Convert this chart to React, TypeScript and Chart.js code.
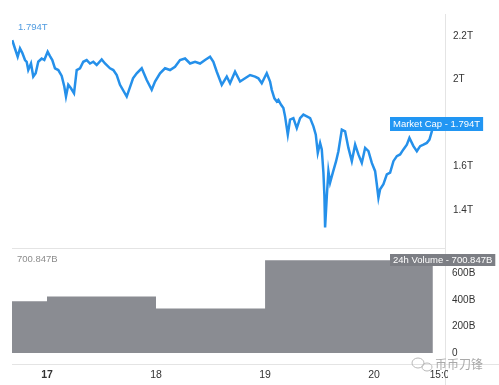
import React, { useEffect, useRef } from "react";
import { Chart, registerables } from "chart.js";

Chart.register(...registerables);

// Market cap: hours since the 16th 00:00, value in trillions
const capHours = [
  16.36, 16.95, 17.55, 18.06, 18.56, 19.16, 19.53, 19.88, 20.48, 20.98, 21.51, 22.08, 22.83, 23.41,
  24.15, 24.66, 25.17, 25.76, 26.49, 27.24, 27.81, 28.18, 28.69, 29.28, 29.95, 30.54, 31.27, 31.99,
  32.74, 33.47, 34.19, 34.94, 36.04, 36.77, 37.87, 38.6, 39.35, 40.07, 41.55, 42.94, 43.75, 44.85,
  45.95, 47.05, 47.78, 48.88, 49.98, 51.08, 52.18, 53.28, 54.39, 55.49, 56.59, 57.69, 58.79, 59.89,
  60.62, 61.37, 62.47, 63.57, 64.29, 65.39, 66.5, 67.6, 68.7, 69.8, 70.52, 71.27, 72.0, 72.37,
  73.1, 73.47, 74.05, 74.58, 74.93, 75.52, 76.03, 76.4, 77.0, 77.5, 78.23, 78.98, 79.71, 80.43,
  81.18, 81.91, 82.64, 83.16, 83.6, 84.11, 84.48, 84.84, 85.06, 85.21, 85.59, 85.94, 86.31, 86.91,
  87.63, 88.14, 88.89, 89.61, 90.34, 91.09, 91.82, 92.54, 93.29, 94.02, 94.75, 95.49, 96.22, 96.59,
  96.95, 97.32, 98.05, 98.8, 99.52, 100.25, 101.0, 101.72, 102.45, 103.2, 103.77, 104.65, 105.4,
  106.13, 106.86, 107.6, 108.18, 108.7, 108.93,
];
const capValues = [
  2.18, 2.142, 2.104, 2.142, 2.122, 2.089, 2.081, 2.043, 2.073, 2.013, 2.028, 2.081, 2.096, 2.089,
  2.127, 2.107, 2.089, 2.051, 2.043, 2.016, 1.967, 1.921, 1.975, 1.959, 1.936, 2.043, 2.051, 2.081,
  2.089, 2.073, 2.081, 2.066, 2.092, 2.073, 2.051, 2.043, 2.02, 1.975, 1.921, 2.005, 2.028, 2.051,
  1.997, 1.952, 1.99, 2.028, 2.051, 2.043, 2.058, 2.089, 2.096, 2.073, 2.081, 2.073, 2.089, 2.104,
  2.081, 2.035, 1.975, 2.013, 1.982, 2.035, 1.99, 2.005, 2.02, 2.013, 2.005, 1.982, 2.013, 2.028,
  1.99, 1.952, 1.913, 1.898, 1.906, 1.883, 1.868, 1.83, 1.746, 1.815, 1.822, 1.776, 1.822, 1.838,
  1.83, 1.822, 1.784, 1.746, 1.662, 1.708, 1.678, 1.571, 1.464, 1.319, 1.464, 1.578, 1.525, 1.571,
  1.624, 1.67, 1.769, 1.761, 1.685, 1.624, 1.7, 1.655, 1.616, 1.685, 1.67, 1.616, 1.578, 1.518,
  1.456, 1.495, 1.518, 1.563, 1.571, 1.624, 1.647, 1.655, 1.678, 1.7, 1.731, 1.693, 1.67,
  1.693, 1.7, 1.708, 1.723, 1.761, 1.794,
];

// 24h volume (billions), step values starting at each hour
const volHours = [16.3, 24, 48, 72, 108.93];
const volValues = [390, 427, 337, 700.847, 700.847];

const dayTicks = [24, 48, 72, 96];
const dayLabels = ["17", "18", "19", "20"];
const endTickHour = 111;
const endTickLabel = "15:00";

const capTicks = [1.4, 1.6, 1.8, 2.0, 2.2];
const capTickLabels = ["1.4T", "1.6T", "1.8T", "2T", "2.2T"];
const volTicks = [0, 200, 400, 600];
const volTickLabels = ["0", "200B", "400B", "600B"];

const capLabel = "Market Cap";
const volLabel = "24h Volume";
const capLast = "1.794T";
const volLast = "700.847B";
const watermark = "币币刀锋";

const FONT = "'Liberation Sans', Arial, sans-serif";
const BLUE = "#2590ea";
const GREY = "#8a8c92";

const overlay = {
  id: "overlay",
  afterDraw(chart: any) {
    const { ctx, chartArea, scales } = chart;
    const x = scales.x;
    const y = scales.y;
    const y2 = scales.y2;
    ctx.save();
    ctx.lineWidth = 1;
    ctx.strokeStyle = "#e4e4e4";
    // panel separator
    ctx.beginPath();
    ctx.moveTo(chartArea.left, Math.round(y2.top) + 0.5);
    ctx.lineTo(chartArea.right, Math.round(y2.top) + 0.5);
    ctx.stroke();
    // bottom axis line
    ctx.beginPath();
    ctx.moveTo(chartArea.left, Math.round(chartArea.bottom) + 0.5);
    ctx.lineTo(chart.width, Math.round(chartArea.bottom) + 0.5);
    ctx.stroke();
    // right axis line
    ctx.beginPath();
    ctx.moveTo(Math.round(chartArea.right) + 0.5, chartArea.top);
    ctx.lineTo(Math.round(chartArea.right) + 0.5, chart.height);
    ctx.stroke();

    // corner values
    ctx.textBaseline = "middle";
    ctx.textAlign = "left";
    ctx.font = `9.5px ${FONT}`;
    ctx.fillStyle = "#4f9be0";
    ctx.fillText(capLast, chartArea.left + 6, 27);
    ctx.fillStyle = "#8c8c8c";
    ctx.fillText(volLast, chartArea.left + 5, 259);

    // last value boxes
    const drawBox = (text: string, yc: number, bg: string, h: number) => {
      ctx.font = `9.5px ${FONT}`;
      const w = ctx.measureText(text).width + 6;
      const left = 390;
      ctx.fillStyle = bg;
      ctx.fillRect(left, Math.round(yc - h / 2), w, h);
      ctx.fillStyle = "#ffffff";
      ctx.fillText(text, left + 3, yc + 0.5);
    };
    drawBox(`${capLabel} - ${capLast}`, y.getPixelForValue(capValues[capValues.length - 1]), "#2196f3", 14);
    drawBox(`${volLabel} - ${volLast}`, y2.getPixelForValue(volValues[volValues.length - 1]), "#7c7e84", 12);

    // clipped end time tick label
    ctx.save();
    ctx.beginPath();
    ctx.rect(0, chartArea.bottom, chartArea.right + 3, chart.height - chartArea.bottom);
    ctx.clip();
    ctx.font = `10px ${FONT}`;
    ctx.fillStyle = "#333";
    ctx.textAlign = "center";
    ctx.fillText(endTickLabel, x.getPixelForValue(endTickHour), 375);
    ctx.restore();

    // watermark
    ctx.strokeStyle = "#b8b8b8";
    ctx.lineWidth = 1;
    ctx.beginPath();
    ctx.ellipse(418, 363, 6, 5, 0, 0, Math.PI * 2);
    ctx.stroke();
    ctx.beginPath();
    ctx.ellipse(427, 367, 5, 4, 0, 0, Math.PI * 2);
    ctx.stroke();
    ctx.font = `12px 'Noto Sans CJK SC', sans-serif`;
    ctx.fillStyle = "#a9a9a9";
    ctx.textAlign = "left";
    ctx.fillText(watermark, 435, 364);
    ctx.restore();
  },
};

export default function App() {
  const ref = useRef<HTMLCanvasElement | null>(null);

  useEffect(() => {
    if (!ref.current) return;
    const chart = new Chart(ref.current, {
      type: "line",
      data: {
        datasets: [
          {
            label: capLabel,
            data: capHours.map((h, i) => ({ x: h, y: capValues[i] })),
            yAxisID: "y",
            borderColor: BLUE,
            borderWidth: 2.5,
            pointRadius: 0,
            tension: 0,
            fill: false,
          },
          {
            label: volLabel,
            data: volHours.map((h, i) => ({ x: h, y: volValues[i] })),
            yAxisID: "y2",
            borderColor: GREY,
            backgroundColor: GREY,
            borderWidth: 0,
            pointRadius: 0,
            stepped: "before",
            fill: "origin",
          },
        ],
      },
      options: {
        animation: false,
        responsive: false,
        devicePixelRatio: 1,
        layout: { padding: { left: 12, top: 12, right: 0, bottom: 0 } },
        plugins: { legend: { display: false }, tooltip: { enabled: false } },
        scales: {
          x: {
            type: "linear",
            min: 16.3,
            max: 111.6,
            grid: { display: false, drawTicks: false },
            border: { display: false },
            afterBuildTicks: (s: any) => {
              s.ticks = dayTicks.map((v) => ({ value: v }));
            },
            afterFit: (s: any) => {
              s.height = 21;
            },
            ticks: {
              autoSkip: false,
              maxRotation: 0,
              padding: 5,
              color: "#333",
              font: (c: any) => ({ family: FONT, size: 10.5, weight: c.index === 0 ? "bold" : "normal" }),
              callback: (_v: any, i: number) => dayLabels[i],
            },
          },
          y: {
            type: "linear",
            position: "right",
            stack: "panes",
            stackWeight: 235,
            min: 1.2263,
            max: 2.3006,
            grid: { display: false, drawTicks: false },
            border: { display: false },
            afterBuildTicks: (s: any) => {
              s.ticks = capTicks.map((v) => ({ value: v }));
            },
            afterFit: (s: any) => {
              s.width = 54;
            },
            ticks: {
              padding: 8,
              color: "#333",
              font: { family: FONT, size: 10 },
              callback: (_v: any, i: number) => capTickLabels[i],
            },
          },
          y2: {
            type: "linear",
            position: "right",
            stack: "panes",
            stackWeight: 117,
            min: -82.5,
            max: 795,
            grid: { display: false, drawTicks: false },
            border: { display: false },
            afterBuildTicks: (s: any) => {
              s.ticks = volTicks.map((v) => ({ value: v }));
            },
            afterFit: (s: any) => {
              s.width = 54;
            },
            ticks: {
              padding: 7,
              color: "#333",
              font: { family: FONT, size: 10 },
              callback: (_v: any, i: number) => volTickLabels[i],
            },
          },
        },
      },
      plugins: [overlay],
    } as any);
    return () => chart.destroy();
  }, []);

  return (
    <div style={{ position: "fixed", left: 0, top: 0, width: 499, height: 385, background: "#fff" }}>
      <canvas ref={ref} width={499} height={385} style={{ display: "block" }} />
    </div>
  );
}
